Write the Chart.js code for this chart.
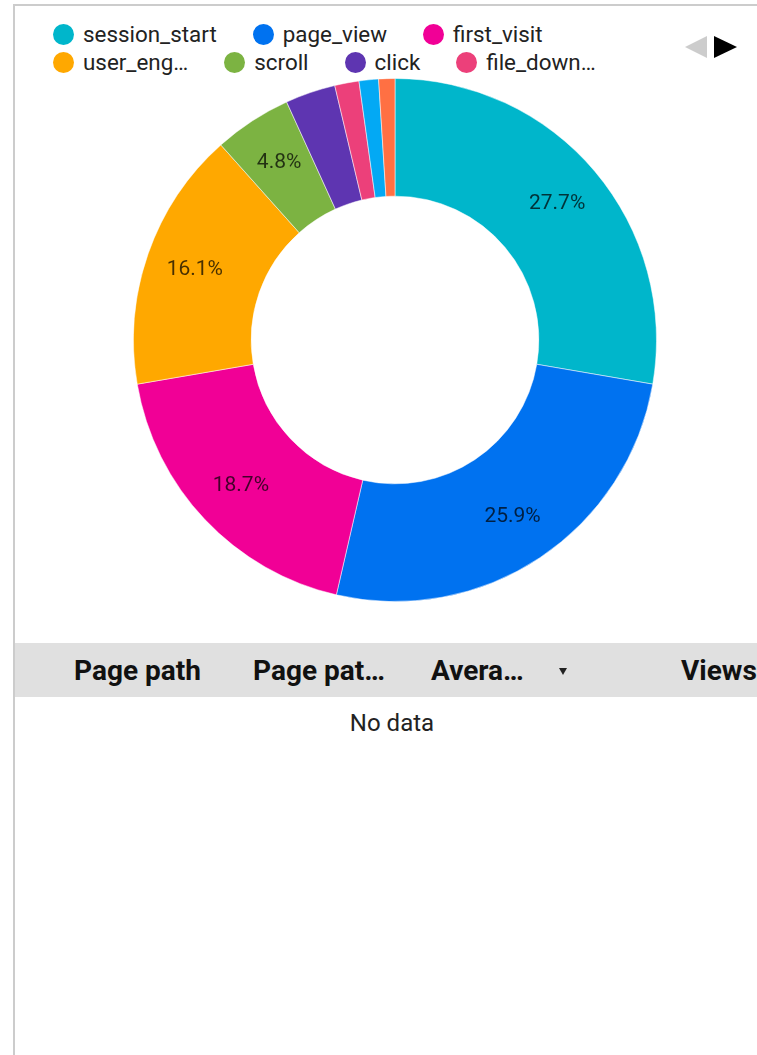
<!DOCTYPE html>
<html>
<head>
<meta charset="utf-8">
<script src="https://cdn.jsdelivr.net/npm/chart.js@4/dist/chart.umd.min.js"></script>
<style>
  body { margin: 0; width: 757px; height: 1055px; overflow: hidden; background: #fff; font-family: Roboto, sans-serif; color: #222; }
  #frame { position: absolute; left: 13px; top: 4px; width: 760px; height: 1100px; border-left: 2px solid #ccc; border-top: 2px solid #ccc; }
  #legend { position: absolute; left: 53px; top: 20px; }
  .row { display: flex; height: 28px; align-items: center; }
  .item { display: flex; align-items: center; margin-right: 36px; font-size: 22.4px; white-space: nowrap; }
  .dot { width: 21px; height: 21px; border-radius: 50%; margin-right: 9px; }
  #pager { position: absolute; left: 685px; top: 36px; }
  .tri { position: absolute; top: 0; width: 0; height: 0; border-top: 11px solid transparent; border-bottom: 11px solid transparent; }
  .tri.left { left: 0; border-right: 22px solid #ccc; }
  .tri.right { left: 29px; border-left: 23px solid #000; }
  #chartBox { position: absolute; left: 133px; top: 78px; width: 524px; height: 524px; }
  #tableHead { position: absolute; left: 15px; top: 643px; width: 742px; height: 54px; background: #e0e0e0; }
  .th { position: absolute; top: 1px; line-height: 54px; font-size: 28px; font-weight: bold; color: #111; white-space: nowrap; }
  .sort { position: absolute; left: 544px; top: 25px; width: 0; height: 0; border-left: 4px solid transparent; border-right: 4px solid transparent; border-top: 7px solid #222; }
  #noData { position: absolute; left: 0; width: 784px; top: 709px; text-align: center; font-size: 24px; }
</style>
</head>
<body>
<div id="frame"></div>
<div id="legend"></div>
<div id="pager"><div class="tri left"></div><div class="tri right"></div></div>
<div id="chartBox"><canvas id="chart"></canvas></div>
<div id="tableHead"></div>
<div id="noData">No data</div>
<script>
// event share of total event count (%)
const eventNames = ['session_start', 'page_view', 'first_visit', 'user_engagement', 'scroll', 'click', 'file_download', 'form_start', 'video_start'];
const eventShares = [27.7, 25.9, 18.7, 16.1, 4.8, 3.1, 1.5, 1.2, 1.0];
const sliceColors = ['#00b6cb', '#0072f0', '#f10096', '#ffa800', '#7cb342', '#5e35b1', '#ec407a', '#03a9f4', '#ff7043'];

// legend page 1 (as truncated on screen)
const legendText = ['session_start', 'page_view', 'first_visit', 'user_eng…', 'scroll', 'click', 'file_down…'];
const legendRows = [3, 4];

// table
const columnNames = ['Page path', 'Page pat…', 'Avera…', 'Views'];
const columnLeft = [59, 238, 416, 666];

const minLabelShare = 4;

// legend
let legend = document.getElementById('legend');
let idx = 0;
legendRows.forEach(count => {
    let row = document.createElement('div');
    row.className = 'row';
    for (let i = 0; i < count; i++, idx++) {
        let item = document.createElement('div');
        item.className = 'item';
        item.innerHTML = `<span class="dot" style="background:${sliceColors[idx]}"></span>${legendText[idx]}`;
        row.appendChild(item);
    }
    legend.appendChild(row);
});

// table header
let head = document.getElementById('tableHead');
columnNames.forEach((name, i) => {
    let th = document.createElement('div');
    th.className = 'th';
    th.style.left = columnLeft[i] + 'px';
    th.textContent = name;
    head.appendChild(th);
});
let sort = document.createElement('div');
sort.className = 'sort';
head.appendChild(sort);

// percent labels inside slices, a bit outside the ring's middle
const sliceLabels = {
    id: 'sliceLabels',
    afterDatasetsDraw(chart) {
        const ctx = chart.ctx;
        const meta = chart.getDatasetMeta(0);
        ctx.save();
        ctx.font = '21px Roboto';
        ctx.fillStyle = 'rgba(0,0,0,0.72)';
        ctx.textAlign = 'center';
        ctx.textBaseline = 'middle';
        meta.data.forEach((arc, i) => {
            if (eventShares[i] < minLabelShare) return;
            const p = arc.getProps(['x', 'y', 'startAngle', 'endAngle', 'innerRadius', 'outerRadius'], true);
            const a = (p.startAngle + p.endAngle) / 2;
            const r = p.innerRadius + 0.58 * (p.outerRadius - p.innerRadius);
            ctx.fillText(eventShares[i].toFixed(1) + '%', p.x + Math.cos(a) * r, p.y + Math.sin(a) * r);
        });
        ctx.restore();
    }
};

let chart = new Chart(document.getElementById('chart'), {
    type: 'doughnut',
    data: {
        labels: eventNames,
        datasets: [{
            data: eventShares,
            backgroundColor: sliceColors,
            borderColor: 'rgba(255,255,255,0.5)',
            borderWidth: 1
        }]
    },
    options: {
        responsive: true,
        maintainAspectRatio: false,
        animation: false,
        cutout: '55%',
        layout: { padding: 0 },
        plugins: {
            legend: { display: false },
            tooltip: { enabled: false }
        }
    },
    plugins: [sliceLabels]
});
</script>
</body>
</html>
